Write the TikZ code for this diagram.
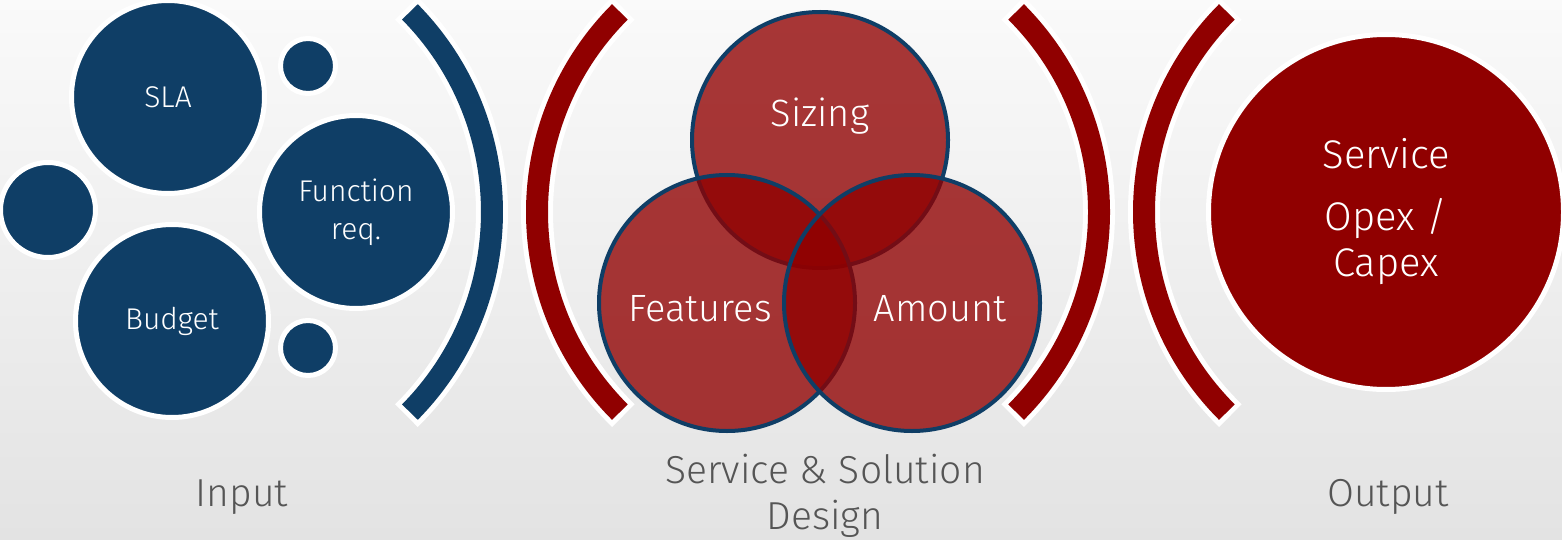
\documentclass[tikz,border=0pt]{standalone}
\usepackage{fontspec}
\setmainfont{Fira Sans Light}
\definecolor{navy}{HTML}{0F3E66}
\definecolor{wine}{HTML}{900000}
\definecolor{labelgray}{HTML}{555555}
\tikzset{
  bubble/.style={circle,fill=navy,draw=white,line width=5pt,inner sep=0pt,
    text=white,align=center,font=\fontsize{30}{38}\selectfont},
  venn/.style={circle,fill=wine,fill opacity=0.78,draw=navy,draw opacity=1,
    line width=4pt,inner sep=0pt,minimum size=256pt},
  venntext/.style={text=white,font=\fontsize{38}{44}\selectfont},
  arcrim/.style={draw=white,line width=32pt},
  arcband/.style={line width=22pt},
  caption/.style={text=labelgray,align=center,font=\fontsize{39}{46}\selectfont},
}

\begin{document}
\begin{tikzpicture}[x=1pt,y=-1pt]
    \useasboundingbox (0,0) rectangle (1562,540);
    \shade[top color=white!98!black,bottom color=white!89!black] (0,0) rectangle (1562,540);

    % brackets
    \draw[arcrim]  (207,212) ++(-45.6:285) arc (-45.6:45.6:285);
    \draw[arcband,navy] (207,212) ++(-44.6:285) arc (-44.6:44.6:285);
    \draw[arcrim]  (820,212) ++(134:283) arc (134:226:283);
    \draw[arcband,wine] (820,212) ++(135:283) arc (135:225:283);
    \draw[arcrim]  (816,212) ++(-46:283) arc (-46:46:283);
    \draw[arcband,wine] (816,212) ++(-45:283) arc (-45:45:283);
    \draw[arcrim]  (1427,212) ++(134:283) arc (134:226:283);
    \draw[arcband,wine] (1427,212) ++(135:283) arc (135:225:283);

    % input
    \node[bubble,minimum size=193pt] (sla) at (168,97) {SLA};
    \node[bubble,minimum size=193pt] (function) at (356,212) {Function\\req.};
    \node[bubble,minimum size=193pt] (budget) at (172,321) {Budget};
    \node[bubble,minimum size=95pt] (leftdot) at (48,210) {};
    \foreach \y/\n in {66/topdot,348/lowdot}
      \node[bubble,minimum size=55pt] (\n) at (308,\y) {};

    % design
    \node[venn] (sizing) at (820,140) {};
    \node[venn] (features) at (727,303) {};
    \node[venn] (amount) at (912,303) {};
    \node[venntext] (sizingtext) at (820,116) {Sizing};
    \node[venntext] (featurestext) at (700,309) {Features};
    \node[venntext] (amounttext) at (940,309) {Amount};

    % output
    \node[circle,fill=wine,draw=white,line width=5pt,minimum size=355pt,inner sep=0pt,
      text=white,align=center,font=\fontsize{40}{46}\selectfont] (service) at (1386,212)
      {Service\\[16pt]Opex /\\Capex};

    \node[caption] (input) at (242,497) {Input};
    \node[caption] (design) at (825,496) {Service \& Solution\\Design};
    \node[caption] (output) at (1388,497) {Output};
\end{tikzpicture}
\end{document}
